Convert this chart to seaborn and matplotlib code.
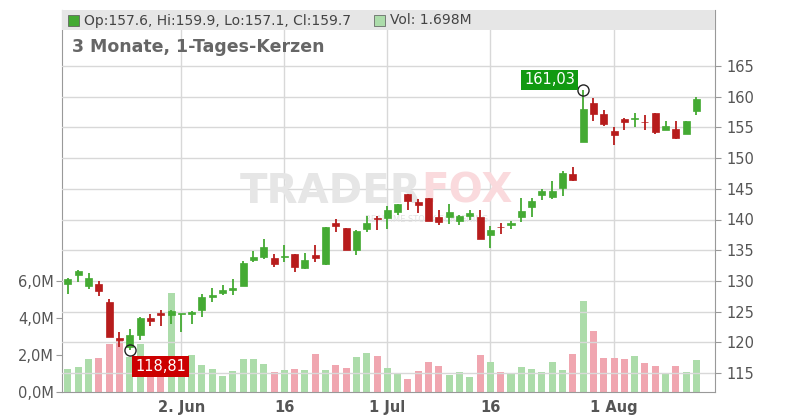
import numpy as np
import pandas as pd
import matplotlib
matplotlib.use("Agg")
import matplotlib.pyplot as plt
import seaborn as sns
from matplotlib.patches import Rectangle

opens  = [129.5,130.9,129.1,129.5,126.6,120.7,119.3,121.25,124.0,124.8,124.5,124.55,124.6,125.2,127.4,128.1,128.5,129.2,133.4,133.9,
          133.7,133.9,134.4,132.1,134.2,132.8,139.5,138.6,135.1,138.5,140.3,140.3,141.25,144.1,142.8,143.5,140.4,140.4,139.8,140.6,
          140.4,137.5,138.8,139.1,140.4,142.1,144.0,143.7,145.2,147.4,152.7,158.9,157.2,154.4,156.4,156.3,155.9,157.3,154.5,154.7,154.0,157.6]
closes = [130.3,131.6,130.5,128.3,120.8,120.3,121.2,124.0,123.5,124.5,125.1,124.6,124.9,127.4,127.7,128.5,128.9,132.9,133.9,135.5,
          132.8,134.1,132.2,133.4,133.8,138.7,139.0,135.1,138.2,139.5,140.0,141.5,142.5,143.0,142.4,139.8,139.6,141.2,140.5,141.0,
          136.8,138.3,138.7,139.5,141.4,143.0,144.6,144.6,147.6,146.4,158.0,157.2,155.6,153.8,155.9,156.5,155.8,154.3,155.3,153.3,156.0,159.7]
highs  = [130.4,131.8,131.3,130.0,127.1,121.7,122.2,124.1,124.6,125.3,125.3,124.6,125.1,127.8,128.9,129.4,130.3,133.2,134.9,136.8,
          134.4,135.9,134.4,134.6,135.9,138.7,140.1,138.6,138.3,140.6,140.6,142.2,142.5,144.1,143.4,143.5,141.5,142.5,140.8,141.5,
          141.5,139.0,139.5,139.8,143.5,143.5,144.9,146.2,147.9,148.5,161.03,159.8,157.8,155.0,156.6,157.4,157.0,157.3,156.1,156.1,156.1,159.9]
lows   = [127.9,129.9,128.75,127.6,120.8,119.3,118.81,120.4,122.7,122.6,123.0,121.7,123.0,124.2,126.6,127.7,127.7,129.2,133.0,133.6,
          132.3,133.0,131.5,132.0,133.1,132.6,138.0,135.1,134.2,138.0,138.3,138.4,140.7,141.5,141.1,139.8,139.1,139.2,139.1,139.9,
          136.8,135.4,137.7,138.5,139.6,140.4,143.2,143.3,143.9,146.3,152.7,156.0,155.3,152.1,154.6,155.0,154.5,154.0,154.5,153.1,154.0,157.1]
volumes_m = [1.24,1.35,1.78,1.84,2.6,2.8,1.9,2.6,1.3,1.4,5.35,1.1,2.0,1.46,1.24,0.86,1.13,1.78,1.78,1.51,
             1.08,1.19,1.24,1.19,2.05,1.19,1.46,1.3,1.9,2.1,1.95,1.3,1.0,0.7,1.13,1.6,1.4,0.92,1.08,0.81,
             2.0,1.6,1.08,1.0,1.35,1.24,1.08,1.6,1.19,2.05,4.92,3.3,1.84,1.84,1.78,1.95,1.57,1.4,0.97,1.4,1.08,1.73]
date_tick_idx = [11, 21, 31, 41, 53]
date_tick_labels = ["2. Jun", "16", "1 Jul", "16", "1 Aug"]
price_ticks = [115, 120, 125, 130, 135, 140, 145, 150, 155, 160, 165]
vol_ticks_m = [0, 2, 4, 6]
vol_tick_labels = ["0,0M", "2,0M", "4,0M", "6,0M"]

GREEN, RED = "#44aa33", "#b71c1c"
VGREEN, VRED = "#acdcaa", "#f0a6b0"

n = len(opens)
df = pd.DataFrame({"i": np.arange(n), "o": opens, "c": closes, "h": highs, "l": lows, "v": volumes_m})
df["up"] = df["c"] >= df["o"]

sns.set_style("white")
fig = plt.figure(figsize=(8, 4.2), dpi=100)
axv = fig.add_axes([62/800, 28/420, 653/800, 382/420])
axv.set_xlim(-0.58, 62.8)
axv.set_ylim(0, 382/18.5)
sns.barplot(data=df, x="i", y="v", hue="up", palette={True: VGREEN, False: VRED},
            native_scale=True, width=0.68, legend=False, ax=axv, saturation=1, linewidth=0)
axv.set_yticks(vol_ticks_m)
axv.set_yticklabels(vol_tick_labels, fontsize=10.5, color="#555555")
axv.set_xticks(date_tick_idx)
axv.set_xticklabels(date_tick_labels, fontsize=10.5, color="#555555", fontweight="bold")
axv.set_xlabel(""); axv.set_ylabel("")
axv.tick_params(axis="both", length=4, color="#999999", pad=2)
for s in ["top", "right"]:
    axv.spines[s].set_visible(False)
for s in ["left", "bottom"]:
    axv.spines[s].set_color("#999999")
for xi in date_tick_idx:
    axv.axvline(xi, color="#d8d8d8", lw=1, zorder=0)

axp = axv.twinx()
axp.set_xlim(-0.58, 62.8)
axp.set_ylim(115 - 19/6.14, 165 + 56/6.14)
axp.set_yticks(price_ticks)
axp.set_yticklabels([str(t) for t in price_ticks], fontsize=10.5, color="#555555")
axp.tick_params(axis="y", length=4, color="#999999", pad=4)
for t in price_ticks:
    axp.axhline(t, color="#d8d8d8", lw=1, zorder=0)
for s in ["top", "left", "bottom"]:
    axp.spines[s].set_visible(False)
axp.spines["right"].set_color("#999999")

# watermark
axp.text(34.3, 144.5, "TRADER", fontsize=29, fontweight="bold", color="#e6e6e6", ha="right", va="center", zorder=1)
axp.text(34.3, 144.5, "FOX", fontsize=29, fontweight="bold", color="#fadadd", ha="left", va="center", zorder=1)
axp.text(34.8, 140.0, "REALTIME STOCK SCREENING", fontsize=6, color="#e2e2e2", ha="center", va="center", zorder=1)

for _, r in df.iterrows():
    col = GREEN if r["up"] else RED
    axp.vlines(r["i"], r["l"], r["h"], color=col, lw=1.3, zorder=3)
    lo, hi = min(r["o"], r["c"]), max(r["o"], r["c"])
    axp.add_patch(Rectangle((r["i"] - 0.34, lo), 0.68, max(hi - lo, 0.15), facecolor=col, edgecolor=col, lw=0.5, zorder=4))

# markers
imax, imin = int(np.argmax(highs)), int(np.argmin(lows))
axp.plot(imax, highs[imax], "o", ms=8, mfc="none", mec="#222222", mew=1, zorder=5)
axp.plot(imin, lows[imin], "o", ms=8, mfc="none", mec="#222222", mew=1, zorder=5)
axp.text(imax - 0.8, highs[imax] + 1.7, "161,03", color="white", fontsize=10.5, ha="right", va="center",
         bbox=dict(boxstyle="square,pad=0.2", fc="#119911", ec="none"), zorder=6)
axp.text(imin + 0.5, lows[imin] - 2.7, "118,81", color="white", fontsize=10.5, ha="left", va="center",
         bbox=dict(boxstyle="square,pad=0.2", fc="#cc0000", ec="none"), zorder=6)

# header
fig.patches.append(Rectangle((62/800, 390/420), 653/800, 20/420, transform=fig.transFigure, fc="#e6e6e6", ec="none", zorder=5))
fig.patches.append(Rectangle((68/800, 394/420), 11/800, 11/420, transform=fig.transFigure, fc=GREEN, ec="#555555", lw=0.5, zorder=6))
fig.text(84/800, 399.5/420, "Op:157.6, Hi:159.9, Lo:157.1, Cl:159.7", fontsize=10, color="#444444", va="center", zorder=7)
fig.patches.append(Rectangle((374/800, 394/420), 11/800, 11/420, transform=fig.transFigure, fc=VGREEN, ec="#555555", lw=0.5, zorder=6))
fig.text(390/800, 399.5/420, "Vol: 1.698M", fontsize=10, color="#444444", va="center", zorder=7)
fig.text(72/800, 373/420, "3 Monate, 1-Tages-Kerzen", fontsize=12.5, color="#666666", va="center", fontweight="bold")

fig.savefig("out.png", dpi=100)
